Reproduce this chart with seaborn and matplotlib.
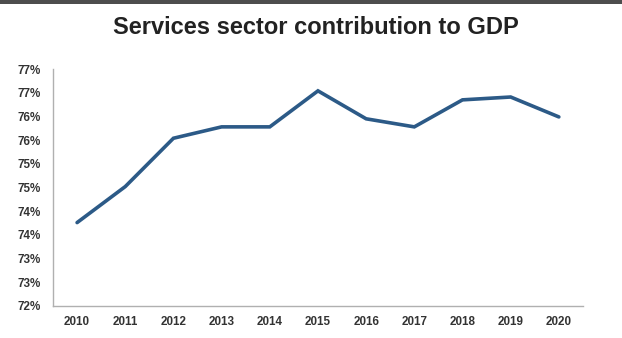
import matplotlib
matplotlib.use("Agg")
import matplotlib.pyplot as plt
from matplotlib.patches import Rectangle
import seaborn as sns
import pandas as pd

years = [2010, 2011, 2012, 2013, 2014, 2015, 2016, 2017, 2018, 2019, 2020]
services_share = [73.76, 74.52, 75.54, 75.78, 75.78, 76.54, 75.95, 75.78, 76.35, 76.41, 75.99]
y_ticks = [72.0, 72.5, 73.0, 73.5, 74.0, 74.5, 75.0, 75.5, 76.0, 76.5, 77.0]
y_tick_labels = ["72%", "73%", "73%", "74%", "74%", "75%", "75%", "76%", "76%", "77%", "77%"]
title = "Services sector contribution to GDP"

sns.set_style("white")
plt.rcParams["font.family"] = ["Liberation Sans", "DejaVu Sans"]

df = pd.DataFrame({"year": years, "share": services_share})

fig = plt.figure(figsize=(6.22, 3.38), dpi=100)
ax = fig.add_axes([0.0852, 0.0947, 0.852, 0.701])

sns.lineplot(data=df, x="year", y="share", ax=ax, color="#2c5a87",
             linewidth=2.6, solid_joinstyle="miter")

ax.set_xlim(2009.5, 2020.5)
ax.set_ylim(72, 77)
ax.set_xticks(years)
ax.set_xticklabels([str(y) for y in years])
ax.set_yticks(y_ticks)
ax.set_yticklabels(y_tick_labels)
ax.set_xlabel("")
ax.set_ylabel("")

for side in ("top", "right"):
    ax.spines[side].set_visible(False)
for side in ("left", "bottom"):
    ax.spines[side].set_color("#b0b0b0")
    ax.spines[side].set_linewidth(1.0)

ax.tick_params(axis="both", length=0, labelsize=8.4, labelcolor="#333333")
ax.tick_params(axis="y", pad=9)
ax.tick_params(axis="x", pad=7)
for lbl in ax.get_xticklabels() + ax.get_yticklabels():
    lbl.set_fontweight("bold")

# dark band across the top edge
fig.patches.append(Rectangle((0, 1 - 4 / 338), 1, 4 / 338, transform=fig.transFigure,
                             facecolor="#4d4d4d", edgecolor="none"))

fig.text(0.508, 1 - 27 / 338, title, ha="center", va="center",
         fontsize=17, fontweight="bold", color="#222222")

fig.savefig("out.png", dpi=100)
